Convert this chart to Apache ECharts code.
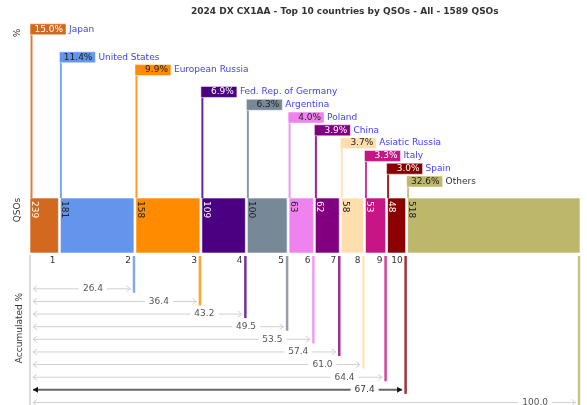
<!DOCTYPE html>
<html>
<head>
<meta charset="utf-8">
<script src="https://cdn.jsdelivr.net/npm/echarts@6/dist/echarts.min.js"></script>
<style>
  html, body { margin: 0; padding: 0; background: #fff; }
  #chart { width: 587px; height: 405px; }
</style>
</head>
<body>
<div id="chart"></div>
<script>
// Top 10 countries by QSOs - 2024 DX CX1AA
const titleText = "2024 DX CX1AA - Top 10 countries by QSOs - All - 1589 QSOs";
const countries = ["Japan", "United States", "European Russia", "Fed. Rep. of Germany", "Argentina",
  "Poland", "China", "Asiatic Russia", "Italy", "Spain", "Others"];
const qsos = [239, 181, 158, 109, 100, 63, 62, 58, 53, 48, 518];
const colors = ["#D2691E", "#6495ED", "#FF8C00", "#4B0082", "#778899",
  "#EE82EE", "#800080", "#FFDEAD", "#C71585", "#8B0000", "#BDB76B"];
const rankLabels = ["1", "2", "3", "4", "5", "6", "7", "8", "9", "10"];
const topN = 10;

const FONT = '9px "DejaVu Sans"';

// derived values
const total = qsos.reduce((a, b) => a + b, 0);
const percents = qsos.map(q => q / total * 100);
const cumStart = [];
const cumEnd = [];
let acc = 0;
qsos.forEach(q => { cumStart.push(acc); acc += q; cumEnd.push(acc); });
const accumPct = cumEnd.map(c => c / total * 100);

// white text on dark fills, dark text on light ones
function textOn(hex) {
  const r = parseInt(hex.slice(1, 3), 16);
  const g = parseInt(hex.slice(3, 5), 16);
  const b = parseInt(hex.slice(5, 7), 16);
  return (0.299 * r + 0.587 * g + 0.114 * b) > 130 ? "#222" : "#fff";
}

const rows = countries.map((c, i) => [cumStart[i], percents[i], i]);

// top panel: percent boxes, staggered so they never overlap
function renderPercent(params, api) {
  const i = api.value(2);
  const cs = params.coordSys;
  const minGap = 12.8;
  let y = -Infinity;
  for (let j = 0; j <= i; j++) {
    const vy = api.coord([cumStart[j], percents[j]])[1];
    y = Math.max(vy, y + minGap);
  }
  const x = Math.max(api.coord([cumStart[i], 0])[0], cs.x);
  const boxW = 36, boxH = 11;
  const bottom = cs.y + cs.height;
  return {
    type: "group",
    children: [
      { type: "line", shape: { x1: x + 1.5, y1: y + boxH / 2, x2: x + 1.5, y2: bottom },
        style: { stroke: colors[i], lineWidth: 2, opacity: 0.85 } },
      { type: "rect", shape: { x: x, y: y - boxH / 2, width: boxW, height: boxH },
        style: { fill: colors[i], stroke: "rgba(255,255,255,0.5)", lineWidth: 1 } },
      { type: "text", x: x + boxW - 3, y: y,
        style: { text: percents[i].toFixed(1) + "%", align: "right", verticalAlign: "middle",
          font: FONT, fill: textOn(colors[i]) } },
      { type: "text", x: x + boxW + 3, y: y,
        style: { text: countries[i], align: "left", verticalAlign: "middle",
          font: FONT, fill: i < topN ? "#4040ff" : "#333" } }
    ]
  };
}

// middle panel: QSO bars, width = number of QSOs
function renderBars(params, api) {
  const i = api.value(2);
  const cs = params.coordSys;
  const left = Math.max(api.coord([cumStart[i], 0])[0] + 1, cs.x);
  const right = Math.min(api.coord([cumEnd[i], 0])[0] - 1, cs.x + cs.width);
  const top = api.coord([cumStart[i], 1])[1];
  const bot = api.coord([cumStart[i], 0])[1];
  return {
    type: "group",
    children: [
      { type: "rect", shape: { x: left, y: top, width: right - left, height: bot - top },
        style: { fill: colors[i], stroke: "rgba(255,255,255,0.6)", lineWidth: 1 } },
      { type: "text", x: left + 4, y: top + 3, rotation: -Math.PI / 2,
        style: { text: String(qsos[i]), align: "left", verticalAlign: "middle",
          font: FONT, fill: textOn(colors[i]) } }
    ]
  };
}

// bottom panel: accumulated percentage arrows
function renderAccum(params, api) {
  const i = api.value(2);
  const cs = params.coordSys;
  const xEnd = Math.min(api.coord([cumEnd[i], 0])[0], cs.x + cs.width) - 1;
  const children = [];
  if (i < topN) {
    children.push({ type: "text", x: xEnd - 3, y: api.coord([cumEnd[i], -0.2])[1],
      style: { text: rankLabels[i], align: "right", verticalAlign: "middle", font: FONT, fill: "#333" } });
  }
  if (i > 0) {
    const rowY = api.coord([cumEnd[i], i + 1])[1];
    const strong = i === topN - 1;
    const lineCol = strong ? "#666" : "#d0d0d0";
    const x1 = cs.x + 3, x2 = xEnd - 3.5;
    children.push({ type: "line", shape: { x1: xEnd, y1: cs.y, x2: xEnd, y2: rowY + 4 },
      style: { stroke: colors[i], lineWidth: 2.5, opacity: 0.8 } });
    children.push({ type: "line", shape: { x1: x1, y1: rowY, x2: x2, y2: rowY },
      style: { stroke: lineCol, lineWidth: strong ? 2 : 1 } });
    if (strong) {
      children.push({ type: "polygon", shape: { points: [[x1, rowY], [x1 + 5, rowY - 3], [x1 + 5, rowY + 3]] },
        style: { fill: "#111" } });
      children.push({ type: "polygon", shape: { points: [[x2, rowY], [x2 - 5, rowY - 3], [x2 - 5, rowY + 3]] },
        style: { fill: "#111" } });
    } else {
      children.push({ type: "polyline", shape: { points: [[x1 + 4, rowY - 3], [x1, rowY], [x1 + 4, rowY + 3]] },
        style: { stroke: lineCol, lineWidth: 1, fill: null } });
      children.push({ type: "polyline", shape: { points: [[x2 - 4, rowY - 3], [x2, rowY], [x2 - 4, rowY + 3]] },
        style: { stroke: lineCol, lineWidth: 1, fill: null } });
    }
    children.push({ type: "text", x: xEnd - 27, y: rowY,
      style: { text: accumPct[i].toFixed(1), align: "right", verticalAlign: "middle", font: FONT,
        fill: strong ? "#333" : "#555", backgroundColor: "#fff", padding: [0, 4] } });
  }
  return { type: "group", children: children };
}

const chart = echarts.init(document.getElementById("chart"), null, { renderer: "canvas" });

const xCommon = { type: "value", min: 168.5, max: 1486.5, show: false };

const option = {
  animation: false,
  title: {
    text: titleText,
    left: 191,
    top: 7,
    padding: 0,
    textStyle: { fontFamily: "DejaVu Sans", fontSize: 9, fontWeight: "bold", color: "#333" }
  },
  grid: [
    { left: 30, right: 7, top: 22, height: 176 },
    { left: 30, right: 7, top: 198, height: 55 },
    { left: 30, right: 7, top: 256, height: 149 }
  ],
  xAxis: [
    Object.assign({ gridIndex: 0 }, xCommon),
    Object.assign({ gridIndex: 1 }, xCommon),
    Object.assign({ gridIndex: 2 }, xCommon)
  ],
  yAxis: [
    { gridIndex: 0, type: "value", min: -7, max: 16, show: false },
    { gridIndex: 1, type: "value", min: 0, max: 1, show: false },
    {
      gridIndex: 2, type: "value", inverse: true, min: -0.6, max: 11.2,
      axisLine: { show: true, onZero: false, lineStyle: { color: "#dcdcdc", width: 2 } },
      axisTick: { show: false }, axisLabel: { show: false }, splitLine: { show: false }
    }
  ],
  graphic: [
    { type: "text", x: 18, y: 33, rotation: Math.PI / 2,
      style: { text: "%", align: "center", verticalAlign: "middle", font: FONT, fill: "#333" } },
    { type: "text", x: 18, y: 210, rotation: Math.PI / 2,
      style: { text: "QSOs", align: "center", verticalAlign: "middle", font: FONT, fill: "#333" } },
    { type: "text", x: 20, y: 328, rotation: Math.PI / 2,
      style: { text: "Accumulated %", align: "center", verticalAlign: "middle", font: FONT, fill: "#333" } }
  ],
  series: [
    { type: "custom", xAxisIndex: 2, yAxisIndex: 2, data: rows, renderItem: renderAccum },
    { type: "custom", xAxisIndex: 1, yAxisIndex: 1, data: rows, renderItem: renderBars },
    { type: "custom", xAxisIndex: 0, yAxisIndex: 0, data: rows, renderItem: renderPercent }
  ]
};

chart.setOption(option);
</script>
</body>
</html>
